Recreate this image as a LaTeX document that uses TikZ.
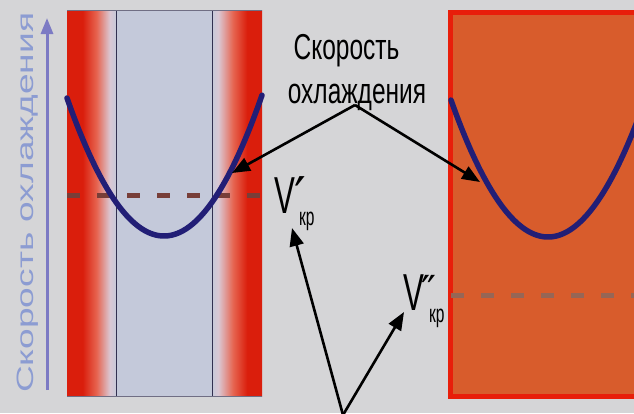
\documentclass[tikz,border=0pt]{standalone}
\usepackage{fontspec}
\setmainfont{Liberation Sans}
\newfontfamily\narrowfont[FakeStretch=0.68]{Liberation Sans}
\newfontfamily\vfont[FakeStretch=0.6]{Liberation Sans}
\newfontfamily\subfont[FakeStretch=0.62]{Liberation Sans}
\newfontfamily\primefont{DejaVu Sans}
\usetikzlibrary{arrows.meta}
\definecolor{bg}{RGB}{213,213,215}
\definecolor{bandred}{RGB}{218,30,12}
\definecolor{salmon}{RGB}{230,100,80}
\definecolor{pinkw}{RGB}{218,200,212}
\definecolor{paleb}{RGB}{196,201,218}
\definecolor{panelorange}{RGB}{216,92,44}
\definecolor{panelred}{RGB}{232,30,10}
\definecolor{curvecol}{RGB}{34,30,118}
\definecolor{dashleft}{RGB}{120,62,56}
\definecolor{dashright}{RGB}{150,102,86}
\definecolor{axiscol}{RGB}{124,122,196}
\definecolor{axistext}{RGB}{140,156,210}
\definecolor{innerline}{RGB}{50,48,80}
\pgfdeclarehorizontalshading{leftband}{100bp}{color(0bp)=(bandred); color(25bp)=(bandred); color(29bp)=(bandred); color(32.6bp)=(salmon); color(36bp)=(pinkw); color(37.8bp)=(paleb); color(62bp)=(paleb); color(63.8bp)=(pinkw); color(67.6bp)=(salmon); color(71.2bp)=(bandred); color(75bp)=(bandred); color(100bp)=(bandred)}
\newcommand{\critlabel}[4]{{\vfont\fontsize{52}{52}\selectfont V}\kern#1\rlap{\raisebox{#2}{#3}}\kern#4\raisebox{-12pt}{\subfont\fontsize{25}{25}\selectfont кр}}
\tikzset{
  curve/.style={line width=5.5pt, draw=curvecol, line cap=round},
  crit/.style={line width=5pt, dash pattern=on 13pt off 17pt},
  conn/.style={line width=2.6pt, draw=black, -{Triangle[length=18pt,width=14pt]}},
  titletext/.style={font=\narrowfont\fontsize{36}{36}\selectfont, inner sep=0pt, text=black},
  vlabel/.style={inner sep=0pt, text=black, anchor=base west},
}
\begin{document}
\begin{tikzpicture}[x=1pt,y=-1pt]
\useasboundingbox (0,0) rectangle (634,413);
\clip (0,0) rectangle (634,413);
\fill[bg] (0,0) rectangle (634,413);
% axis
\draw[line width=3pt, draw=axiscol, -{Triangle[length=16pt,width=12pt]}] (47,390) coordinate (ax0) -- (47,18) coordinate (ax1);
\node[rotate=90, anchor=base west, inner sep=0pt, text=axistext] (axlabel) at (33,393)
  {\resizebox{380pt}{16.5pt}{Скорость охлаждения}};
% left panel
\shade[shading=leftband] (67,10) rectangle (262,396);
\draw[line width=0.8pt, draw=innerline] (116,10) -- (116,396) (212,10) -- (212,396);
\draw[line width=0.9pt, draw=innerline!70] (67,10) -- (262,10) (67,396) -- (262,396);
\draw[crit, draw=dashleft] (67,195) -- (262,195);
\draw[curve] plot[domain=67:262, samples=80] (\x, {236 - 0.01467*(\x-164)^2});
% right panel
\draw[line width=5pt, draw=panelred, fill=panelorange] (450.5,12) rectangle (660,396);
\draw[crit, draw=dashright] (451,295) -- (640,295);
\draw[curve] plot[domain=451:640, samples=80] (\x, {237 - 0.01456*(\x-548)^2});
% labels
\node[titletext, anchor=base] (t1) at (346.5,59.5) {Скорость};
\node[titletext, anchor=base] (t2) at (357,103.3) {охлаждения};
\node[vlabel] (v1) at (274,213)
  {\critlabel{-1pt}{-1pt}{\primefont\fontsize{52}{52}\selectfont ′}{5pt}};
\node[vlabel] (v2) at (403,310)
  {\critlabel{-3pt}{6pt}{\primefont\fontsize{40}{40}\selectfont ″}{8pt}};
% connectors
\coordinate (apex1) at (355,105);
\coordinate (tipL) at (232,173);
\coordinate (tipR) at (480,182);
\coordinate (apex2) at (343,415);
\coordinate (tipV1) at (292,228);
\coordinate (tipV2) at (404,312);
\draw[conn] (apex1) -- (tipL);
\draw[conn] (apex1) -- (tipR);
\draw[conn] (apex2) -- (tipV1);
\draw[conn] (apex2) -- (tipV2);
\end{tikzpicture}
\end{document}
